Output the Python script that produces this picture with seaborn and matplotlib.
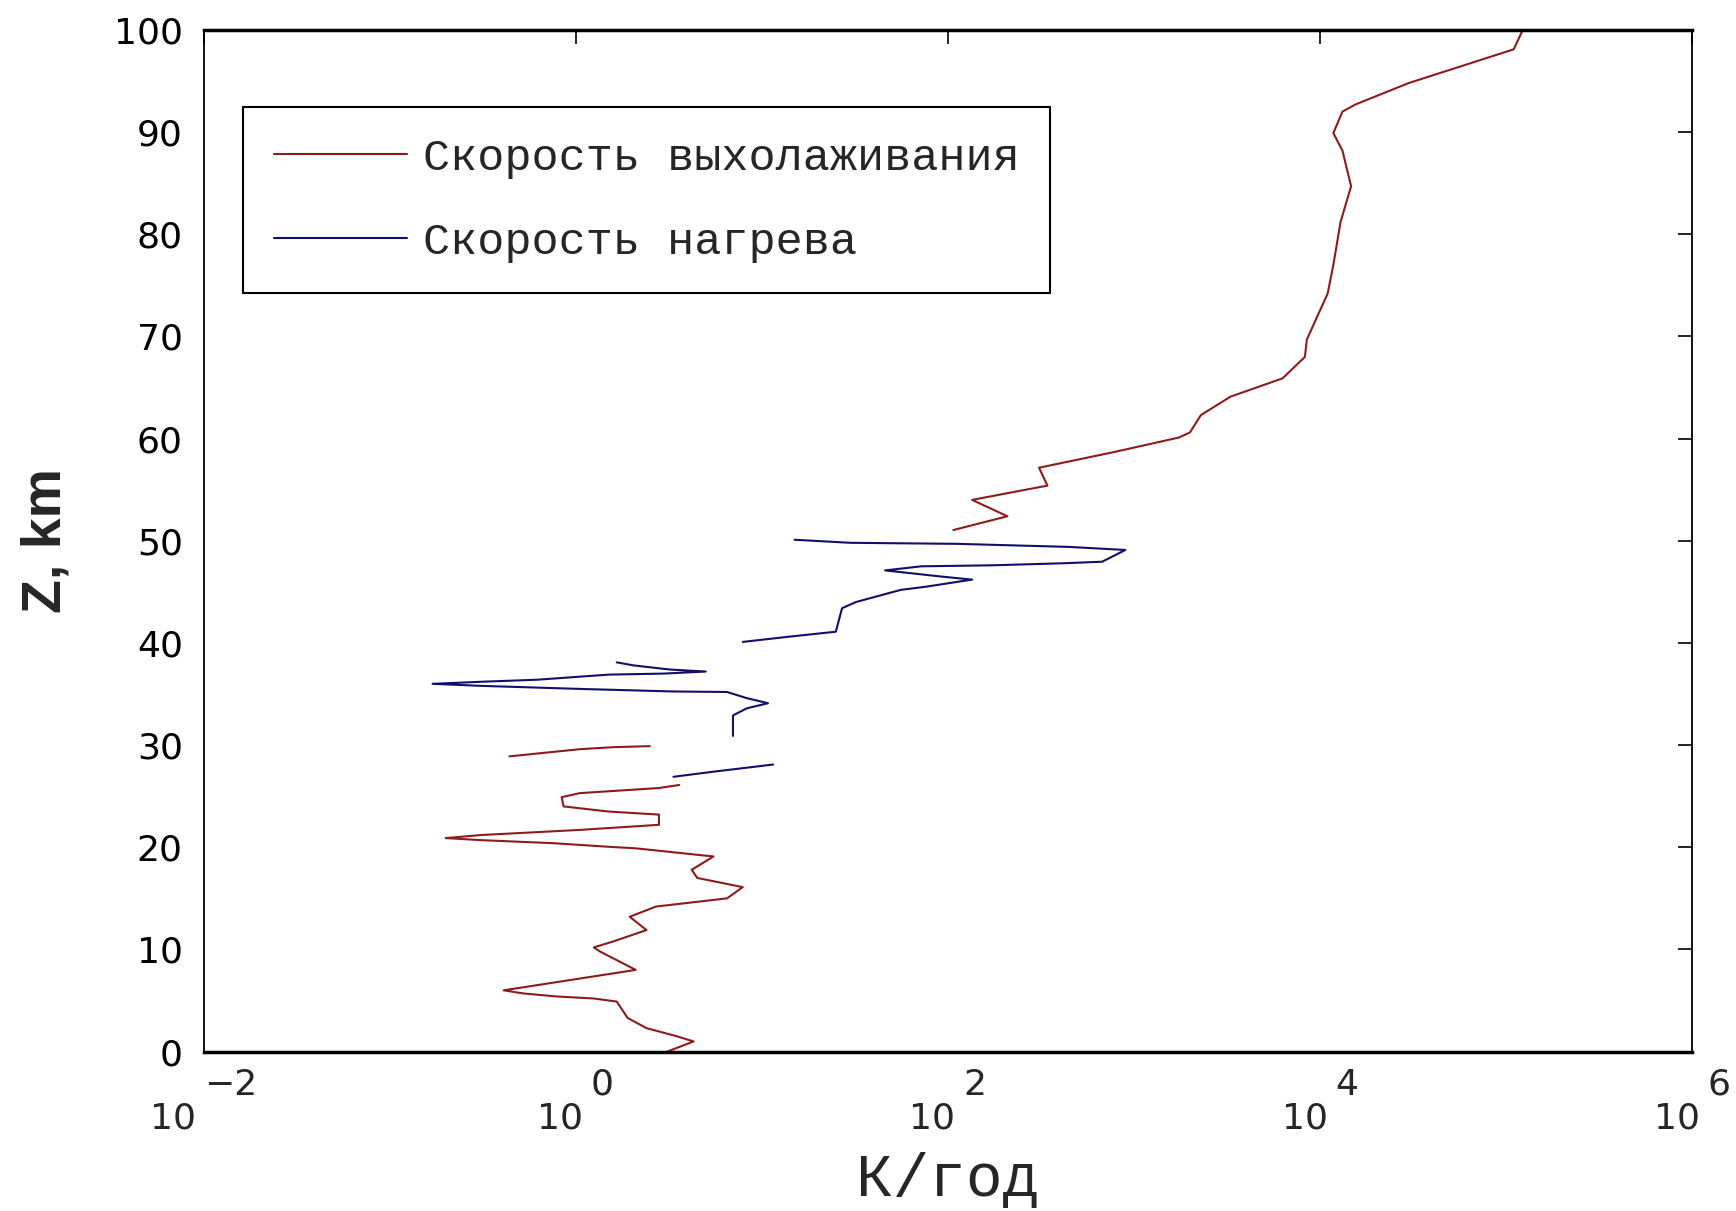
import matplotlib
matplotlib.use("Agg")
import matplotlib.pyplot as plt
import numpy as np
import pandas as pd
import seaborn as sns
from matplotlib.lines import Line2D
from matplotlib.ticker import FixedLocator, NullFormatter, NullLocator

sns.set_theme(style="white")
plt.rcParams['font.family'] = ['DejaVu Sans']

# Cooling rate (K/year) vs altitude (km)
cool_low_z = [0.0, 1.0, 1.5, 2.3, 3.3, 4.9, 5.2, 5.4, 5.7, 6.0, 8.0, 9.8, 10.2, 10.8,
              11.9, 13.2, 14.2, 15.0, 16.1, 17.0, 17.8, 19.1, 19.9, 20.05, 20.4,
              20.7, 20.9, 21.2, 21.7, 22.2, 23.2, 23.5, 24.0, 24.9, 25.3, 25.8, 26.1]
cool_low_v = [3.1, 4.3, 3.5, 2.4, 1.9, 1.66, 1.25, 0.79, 0.52, 0.41, 2.1, 1.35, 1.25, 1.6,
              2.4, 1.95, 2.7, 6.5, 7.9, 4.5, 4.2, 5.5, 2.1, 1.5, 0.76,
              0.31, 0.2, 0.31, 1.05, 2.8, 2.8, 1.5, 0.86, 0.84, 1.05, 2.8, 3.6]
cool_mid_z = [28.9, 29.6, 29.8, 29.9]
cool_mid_v = [0.44, 1.05, 1.6, 2.5]
cool_top_z = [51.05, 52.4, 54.0, 55.4, 57.15, 58.7, 60.1, 60.6, 62.3, 64.1, 65.9, 68.0,
              69.7, 74.2, 77.0, 81.2, 84.7, 88.2, 89.9, 92.0, 92.7, 94.8, 98.1, 100.0]
cool_top_v = [107, 209, 135, 343, 309, 790, 1740, 2000, 2290, 3300, 6300, 8300,
              8500, 11000, 11800, 12900, 14700, 13200, 11800, 13200, 15500, 30000,
              110000, 123000]

# Heating rate (K/year) vs altitude (km)
heat_low_z = [26.9, 27.4, 28.1]
heat_low_v = [3.35, 5.5, 11.5]
heat_mid_z = [30.9, 32.9, 33.6, 34.1, 34.6, 35.2, 35.25, 35.5, 35.8, 36.0, 36.2, 36.4,
              36.9, 37.0, 37.2, 37.4, 37.8, 38.1]
heat_mid_v = [7.0, 7.0, 8.3, 10.8, 8.3, 6.5, 3.35, 1.05, 0.31, 0.17, 0.31, 0.62,
              1.5, 2.95, 5.0, 3.2, 2.05, 1.66]
heat_top_z = [40.1, 40.6, 41.1, 43.4, 44.0, 45.2, 45.5, 46.2, 46.5, 47.1, 47.5, 47.6,
              47.8, 47.95, 49.1, 49.4, 49.7, 49.8, 50.1]
heat_top_v = [7.9, 13.8, 25, 27, 32, 56, 76, 135, 92, 46, 72, 174,
              420, 675, 900, 447, 112, 30, 15]

labels = ['Скорость выхолаживания', 'Скорость нагрева']
x_ticks = [1e-2, 1e0, 1e2, 1e4, 1e6]
y_ticks = list(range(0, 101, 10))

cool_color = '#8e1b1b'
heat_color = '#10106a'
tick_fs = 26


def segments(*pairs):
    frames = []
    for i, (z, v) in enumerate(pairs):
        frames.append(pd.DataFrame({'z': z, 'v': v, 'seg': i}))
    return pd.concat(frames, ignore_index=True)


cool = segments((cool_low_z, cool_low_v), (cool_mid_z, cool_mid_v), (cool_top_z, cool_top_v))
heat = segments((heat_low_z, heat_low_v), (heat_mid_z, heat_mid_v), (heat_top_z, heat_top_v))

fig = plt.figure(figsize=(17.36, 12.11), dpi=100)
ax = fig.add_axes([0.1173, 0.1316, 0.8574, 0.8437])
ax.set_xscale('log')

sns.lineplot(data=cool, x='v', y='z', units='seg', estimator=None, sort=False,
             color=cool_color, linewidth=1.5, ax=ax)
sns.lineplot(data=heat, x='v', y='z', units='seg', estimator=None, sort=False,
             color=heat_color, linewidth=1.5, ax=ax)

ax.set_xlim(1e-2, 1e6)
ax.set_ylim(0, 100)
ax.xaxis.set_major_locator(FixedLocator(x_ticks))
ax.xaxis.set_minor_locator(NullLocator())
ax.xaxis.set_major_formatter(NullFormatter())
ax.set_yticks(y_ticks)

ax.tick_params(axis='both', which='major', direction='in', length=10, width=1.2,
               color='black', top=True, right=True, labelcolor='black')
ax.tick_params(axis='y', labelsize=tick_fs, pad=15)

# MATLAB style power labels: "10" with a full-size exponent up and to the right
base_w = 2 * 0.636 * tick_fs
gap = 5.6
for v in x_ticks:
    exp_txt = str(int(round(np.log10(v)))).replace('-', '\u2212')
    exp_w = sum(0.838 if c == '\u2212' else 0.636 for c in exp_txt) * tick_fs
    base_end = -(base_w + gap + exp_w) / 2 + base_w
    ax.annotate('10', xy=(v, 0), xycoords=('data', 'axes fraction'),
                xytext=(base_end, -55), textcoords='offset points',
                ha='right', va='baseline', fontsize=tick_fs, annotation_clip=False)
    ax.annotate(exp_txt, xy=(v, 0), xycoords=('data', 'axes fraction'),
                xytext=(base_end + gap, -31), textcoords='offset points',
                ha='left', va='baseline', fontsize=tick_fs, annotation_clip=False)

for side in ['left', 'right']:
    ax.spines[side].set_linewidth(1.3)
    ax.spines[side].set_color('black')
for side in ['top', 'bottom']:
    ax.spines[side].set_linewidth(2.5)
    ax.spines[side].set_color('black')

ax.set_xlabel('К/год', fontsize=44, family=['Liberation Mono', 'DejaVu Sans Mono'])
ax.xaxis.set_label_coords(0.5, -0.126)
ax.xaxis.label.set_va('center')
ax.set_ylabel('Z, km', fontsize=40, fontweight='bold', family=['Liberation Sans', 'DejaVu Sans'])
ax.yaxis.set_label_coords(-0.1056, 0.5)
ax.yaxis.label.set_va('center')

handles = [Line2D([0], [0], color=cool_color, linewidth=1.5),
           Line2D([0], [0], color=heat_color, linewidth=1.5)]
leg = ax.legend(handles, labels, loc='upper left', bbox_to_anchor=(0.0264, 0.9245),
                borderaxespad=0, fancybox=False, framealpha=1, edgecolor='black',
                prop={'family': ['Liberation Mono', 'DejaVu Sans Mono'], 'size': 32.5},
                handlelength=2.95, handletextpad=0.36, labelspacing=0.95, borderpad=0.68)
leg.get_frame().set_linewidth(1.5)

fig.savefig('out.png', dpi=100)
